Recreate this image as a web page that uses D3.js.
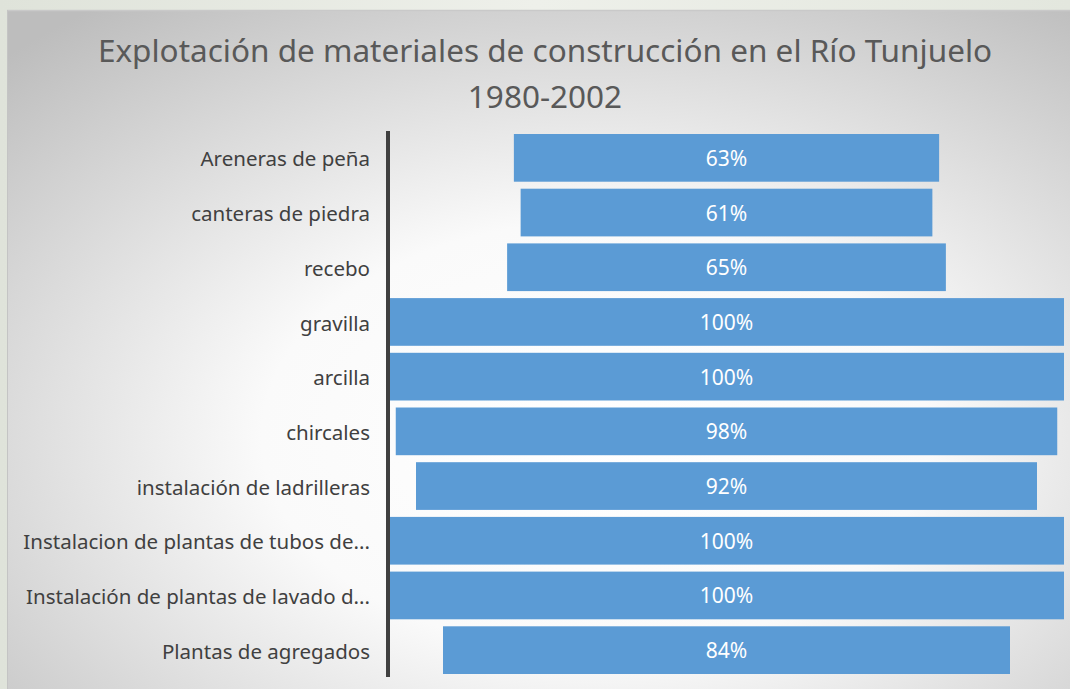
<!DOCTYPE html>
<html lang="es">
<head>
<meta charset="utf-8">
<title>Explotación de materiales de construcción</title>
<script src="https://d3js.org/d3.v7.min.js"></script>
<style>
  body { margin: 0; overflow: hidden; background: #e6e9e2; }
  svg { display: block; }
</style>
</head>
<body>
<script>
// categories and values
var categories = ["Areneras de peña", "canteras de piedra", "recebo", "gravilla", "arcilla",
  "chircales", "instalación de ladrilleras", "Instalacion de plantas de tubos de...",
  "Instalación de plantas de lavado d...", "Plantas de agregados"];
var values = [63, 61, 65, 100, 100, 98, 92, 100, 100, 84];
var titleLines = ["Explotación de materiales de construcción en el Río Tunjuelo", "1980-2002"];

var width = 1070, height = 689;
var svg = d3.select("body").append("svg").attr("width", width).attr("height", height);

var defs = svg.append("defs");
var grad = defs.append("radialGradient").attr("id", "bg")
  .attr("cx", "55%").attr("cy", "62%").attr("r", "78%");
grad.append("stop").attr("offset", "0%").attr("stop-color", "#ffffff");
grad.append("stop").attr("offset", "40%").attr("stop-color", "#fafafa");
grad.append("stop").attr("offset", "100%").attr("stop-color", "#bdbdbd");

// outer photo-ish background
var outer = defs.append("linearGradient").attr("id", "outer").attr("x1", 0).attr("x2", 1);
outer.append("stop").attr("offset", "0%").attr("stop-color", "#dfe3da");
outer.append("stop").attr("offset", "50%").attr("stop-color", "#eef0ea");
outer.append("stop").attr("offset", "100%").attr("stop-color", "#e3e7de");
svg.append("rect").attr("width", width).attr("height", height).attr("fill", "url(#outer)");

// chart panel
svg.append("rect").attr("x", 7).attr("y", 10).attr("width", width).attr("height", height)
  .attr("fill", "url(#bg)");
svg.append("line").attr("x1", 7).attr("x2", width).attr("y1", 10.5).attr("y2", 10.5)
  .attr("stroke", "#c9c9c9").attr("stroke-width", 1.5);
svg.append("line").attr("x1", 7.5).attr("x2", 7.5).attr("y1", 10).attr("y2", height)
  .attr("stroke", "#c4c4c4").attr("stroke-width", 1);

// title
svg.append("g").selectAll("text").data(titleLines).enter().append("text")
  .attr("x", 545).attr("y", function(d, i) { return 62 + i * 46; })
  .attr("text-anchor", "middle")
  .attr("font-family", "'Noto Sans', sans-serif").attr("font-size", 31.5)
  .attr("fill", "#595959")
  .text(function(d) { return d; });

// scales
var y = d3.scaleBand().domain(categories).range([130.5, 677.5]).paddingInner(0.128).paddingOuter(0.064);
var x = d3.scaleLinear().domain([-100, 100]).range([389, 1064]);

// centered bars (funnel)
var bars = svg.append("g").selectAll("g").data(values).enter().append("g");
bars.append("rect")
  .attr("x", function(d) { return x(-d); })
  .attr("width", function(d) { return x(d) - x(-d); })
  .attr("y", function(d, i) { return y(categories[i]); })
  .attr("height", y.bandwidth())
  .attr("fill", "#5b9bd5");
bars.append("text")
  .attr("x", x(0))
  .attr("y", function(d, i) { return y(categories[i]) + y.bandwidth() / 2; })
  .attr("dy", "0.38em")
  .attr("text-anchor", "middle")
  .attr("font-family", "'Noto Sans', sans-serif").attr("font-size", 21)
  .attr("fill", "#ffffff")
  .text(function(d) { return d + "%"; });

// category axis
var axis = svg.append("g").attr("transform", "translate(388,0)")
  .call(d3.axisLeft(y).tickSize(0).tickPadding(18));
axis.select(".domain").attr("stroke", "#404040").attr("stroke-width", 4)
  .attr("d", "M0," + 131 + "V" + 677);
axis.selectAll("text")
  .attr("dy", "0.42em")
  .attr("font-family", "'Noto Sans', sans-serif").attr("font-size", 20.5)
  .attr("fill", "#404040");
</script>
</body>
</html>
